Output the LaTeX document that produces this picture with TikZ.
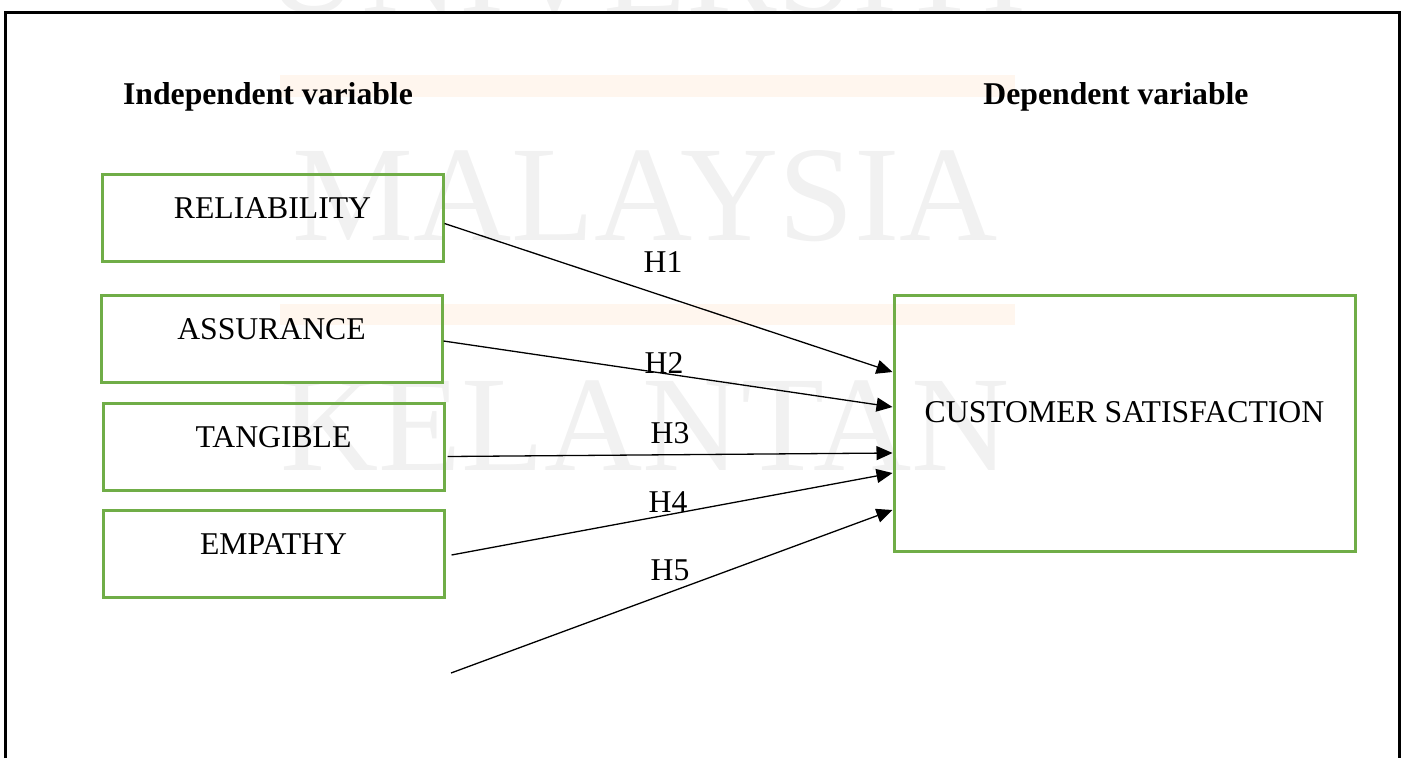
\documentclass[tikz,border=0pt]{standalone}
\usepackage{fontspec}
\setmainfont{Liberation Serif}
\usetikzlibrary{arrows.meta,calc}
\definecolor{boxgreen}{RGB}{112,173,71}
\definecolor{wmgray}{RGB}{241,241,241}
\definecolor{wmorange}{RGB}{255,246,238}
\tikzset{
  txt/.style={font=\fontsize{31.7}{38}\selectfont, inner sep=0pt},
  hdr/.style={font=\fontsize{31.7}{38}\selectfont\bfseries, inner sep=0pt},
  varbox/.style={draw=boxgreen, line width=3pt, font=\fontsize{31.7}{38}\selectfont,
    inner xsep=0pt, inner ysep=0pt, text height=44pt, text depth=43pt, minimum width=341pt},
  depbox/.style={draw=boxgreen, line width=3pt, font=\fontsize{31.7}{38}\selectfont,
    inner xsep=0pt, inner ysep=0pt, text height=127pt, text depth=129pt, minimum width=461pt},
  arr/.style={line width=1.3pt, -{Triangle[length=16pt,width=14pt]}},
  wm/.style={text=wmgray, font=\fontsize{136}{140}\selectfont, inner sep=0pt, anchor=base},
  frame/.style={line width=3pt, draw=black}
}
\begin{document}
\begin{tikzpicture}[x=1pt,y=-1pt]
\useasboundingbox (0,0) rectangle (1405,758);
% faint watermark
\fill[wmorange] (280,75) rectangle (1015,97);
\fill[wmorange] (280,304) rectangle (1015,325);
\node[wm] (wm1) at (645,12) {UNIVERSITI};
\node[wm] (wm2) at (645,240) {MALAYSIA};
\node[wm] (wm3) at (645,470) {KELANTAN};
% frame
\draw[frame] (5,758) -- (5,12) -- (1399,12) -- (1399,758);
% headers
\node[hdr, anchor=base] (indep) at (268,104) {Independent variable};
\node[hdr, anchor=base] (dep) at (1116,104) {Dependent variable};
% boxes
\node[varbox, anchor=base] (rel) at (272.5,218) {RELIABILITY};
\node[varbox, anchor=base] (ass) at (271.5,339) {ASSURANCE};
\node[varbox, anchor=base] (tan) at (273.5,447) {TANGIBLE};
\node[varbox, anchor=base] (emp) at (273.5,554) {EMPATHY};
\node[depbox, anchor=base] (cs) at (1124.5,422) {CUSTOMER SATISFACTION};
\coordinate (h5s) at (451,673);
% connectors
\draw[arr] ($(rel.east)+(0,6)$) -- ($(cs.west)+(0,-51)$);
\draw[arr] ($(ass.east)+(0,2.5)$) -- ($(cs.west)+(0,-16)$);
\draw[arr] ($(tan.east)+(2,10)$) -- ($(cs.west)+(0,30)$);
\draw[arr] ($(emp.east)+(6,1.5)$) -- ($(cs.west)+(0,50)$);
\draw[arr] (h5s) -- ($(cs.west)+(0,87)$);
% labels
\node[txt, anchor=base] (l1) at (663,272) {H1};
\node[txt, anchor=base] (l2) at (664,373) {H2};
\node[txt, anchor=base] (l3) at (670,443) {H3};
\node[txt, anchor=base] (l4) at (668,512) {H4};
\node[txt, anchor=base] (l5) at (670,580) {H5};
\end{tikzpicture}
\end{document}
